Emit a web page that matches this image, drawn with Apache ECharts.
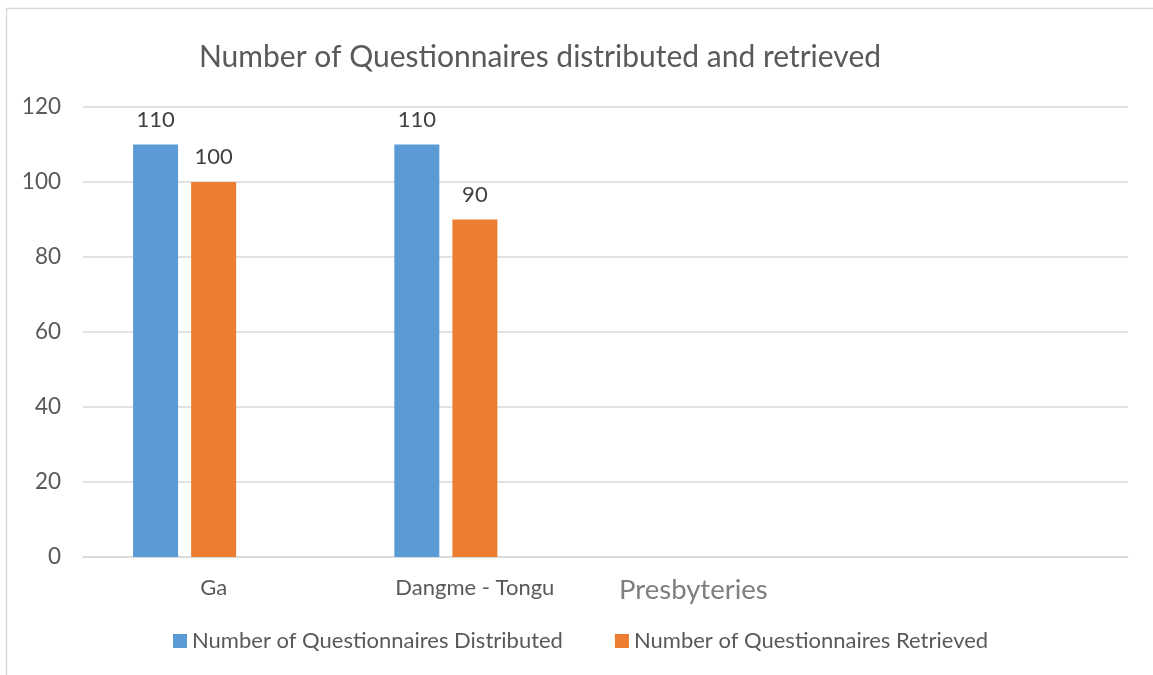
<!DOCTYPE html>
<html>
<head>
<meta charset="utf-8">
<script src="https://cdn.jsdelivr.net/npm/echarts@6/dist/echarts.min.js"></script>
<style>
  html, body { margin: 0; padding: 0; background: #fff; }
  #chart { width: 1153px; height: 675px; }
</style>
</head>
<body>
<div id="chart"></div>
<script>
const categories = ["Ga", "Dangme - Tongu", "", ""];
const distributed = [110, 110, null, null];
const retrieved = [100, 90, null, null];
const spare = [null, null, null, null]; // empty third series slot, keeps the groups centred like the original
const yTicks = { min: 0, max: 120, interval: 20 };

const font = "Lato, 'Open Sans', sans-serif";
const chart = echarts.init(document.getElementById("chart"));

const labelStyle = { show: true, position: "top", distance: 14, color: "#404040", fontSize: 22, fontFamily: font };

const option = {
  animation: false,
  textStyle: { fontFamily: font },
  title: [
    {
      text: "Number of Questionnaires distributed and retrieved",
      left: 535,
      top: 37,
      textAlign: "center",
      textStyle: { fontFamily: font, fontSize: 30, fontWeight: "normal", color: "#595959" },
    },
    {
      text: "Presbyteries",
      left: 614,
      top: 571,
      textStyle: { fontFamily: font, fontSize: 27.5, fontWeight: "normal", color: "#7f7f7f" },
    },
  ],
  legend: {
    bottom: 18,
    left: 168,
    icon: "rect",
    itemWidth: 14,
    itemHeight: 14,
    itemGap: 52,
    textStyle: { fontFamily: font, fontSize: 22, color: "#595959" },
    data: ["Number of Questionnaires Distributed", "Number of Questionnaires Retrieved"],
  },
  grid: {
    left: 83,
    right: 25,
    top: 107,
    bottom: 118,
    containLabel: false,
  },
  xAxis: {
    type: "category",
    data: categories,
    axisTick: { show: false },
    axisLine: { lineStyle: { color: "#d9d9d9", width: 1.5 } },
    axisLabel: { color: "#595959", fontSize: 22, margin: 20, fontFamily: font },
  },
  yAxis: {
    type: "value",
    min: yTicks.min,
    max: yTicks.max,
    interval: yTicks.interval,
    axisLine: { show: false },
    axisTick: { show: false },
    axisLabel: { color: "#595959", fontSize: 22.5, margin: 22, fontFamily: font },
    splitLine: { lineStyle: { color: "#d9d9d9", width: 1.5 } },
  },
  series: [
    {
      name: "Number of Questionnaires Distributed",
      type: "bar",
      data: distributed,
      barWidth: 45,
      barGap: "29%",
      itemStyle: { color: "#5b9bd5" },
      label: labelStyle,
    },
    {
      name: "Number of Questionnaires Retrieved",
      type: "bar",
      data: retrieved,
      barWidth: 45,
      barGap: "29%",
      itemStyle: { color: "#ed7d31" },
      label: labelStyle,
    },
    {
      name: "Series3",
      type: "bar",
      data: spare,
      barWidth: 45,
      barGap: "29%",
      itemStyle: { color: "#a5a5a5" },
    },
  ],
  graphic: [
    { type: "line", shape: { x1: 6, y1: 8.5, x2: 1153, y2: 8.5 }, style: { stroke: "#d9d9d9", lineWidth: 1.5 } },
    { type: "line", shape: { x1: 6.5, y1: 8, x2: 6.5, y2: 675 }, style: { stroke: "#d9d9d9", lineWidth: 1.5 } },
  ],
};

chart.setOption(option);
window.addEventListener("resize", () => chart.resize());
</script>
</body>
</html>
